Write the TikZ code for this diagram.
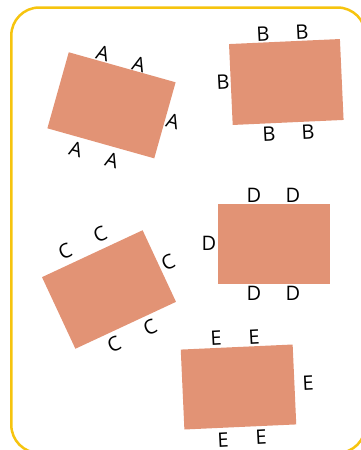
\documentclass[tikz,border=0pt]{standalone}
\usepackage{fontspec}
\setmainfont{Open Sans}
\definecolor{framecol}{HTML}{F6C40F}
\definecolor{salmon}{HTML}{E29375}
\begin{document}
\begin{tikzpicture}[x=1pt,y=-1pt,
  card/.style={fill=salmon, draw=none, inner sep=0pt},
  lbl/.style={font=\fontsize{20}{20}\selectfont, inner sep=0pt, text=black}]
\useasboundingbox (0,0) rectangle (361,450);
\begin{scope}
\clip (0,0) rectangle (361,450);
\draw[framecol, line width=2.5pt, rounded corners=28pt] (11.3,7.5) rectangle (365.5,453);
\end{scope}
% A
\node[card, minimum width=111pt, minimum height=79pt, rotate=-15.7] (recA) at (111.5,105.3) {};
\node[lbl, rotate=-16] (a1) at (103,53) {A};
\node[lbl, rotate=-16] (a2) at (139,64) {A};
\node[lbl, rotate=-16] (a3) at (173,121) {A};
\node[lbl, rotate=-16] (a4) at (76,149) {A};
\node[lbl, rotate=-16] (a5) at (112,160) {A};
% B
\node[card, minimum width=111pt, minimum height=81pt, rotate=2.6] (recB) at (286.3,82) {};
\node[lbl, rotate=3] (b1) at (263,34) {B};
\node[lbl, rotate=3] (b2) at (302,32) {B};
\node[lbl, rotate=3] (b3) at (223,82) {B};
\node[lbl, rotate=3] (b4) at (269,134) {B};
\node[lbl, rotate=3] (b5) at (308,132) {B};
% C
\node[card, minimum width=111pt, minimum height=79pt, rotate=25] (recC) at (109,289.5) {};
\node[lbl, rotate=25] (c1) at (65,251) {C};
\node[lbl, rotate=25] (c2) at (100,234) {C};
\node[lbl, rotate=25] (c3) at (168,262) {C};
\node[lbl, rotate=25] (c4) at (150,327) {C};
\node[lbl, rotate=25] (c5) at (114,344) {C};
% D
\node[card, minimum width=112pt, minimum height=80pt] (recD) at (274,244) {};
\node[lbl] (d1) at (254,195) {D};
\node[lbl] (d2) at (293,195) {D};
\node[lbl] (d3) at (209,243) {D};
\node[lbl] (d4) at (254,293) {D};
\node[lbl] (d5) at (293,293) {D};
% E
\node[card, minimum width=112pt, minimum height=80pt, rotate=2.6] (recE) at (238.5,387) {};
\node[lbl, rotate=3] (e1) at (216,338) {E};
\node[lbl, rotate=3] (e2) at (254,337) {E};
\node[lbl, rotate=3] (e3) at (308,383) {E};
\node[lbl, rotate=3] (e4) at (223,440) {E};
\node[lbl, rotate=3] (e5) at (261,437.5) {E};
\end{tikzpicture}
\end{document}
